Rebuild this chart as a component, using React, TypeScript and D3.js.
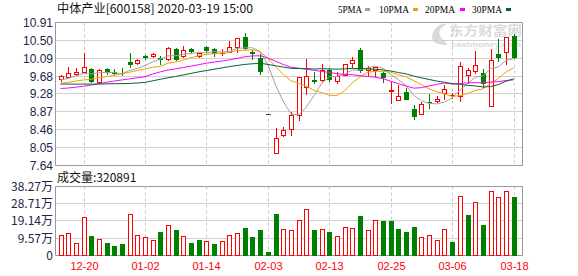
import React from 'react';
import * as d3 from 'd3';

const opens = [9.60, 9.66, 9.73, 9.77, 9.83, 9.54, 9.83, 9.77, 9.75, 10.00, 9.97, 10.13, 10.13, 10.08, 10.06, 10.29, 10.13, 10.29, 10.14, 10.345, 10.29, 10.20, 10.23, 10.345, 10.575, 10.22, 10.08, 8.80, 7.92, 8.33, 8.46, 8.78, 9.43, 9.58, 9.58, 9.81, 9.56, 9.70, 9.98, 10.27, 9.81, 9.82, 9.74, 9.34, 9.13, 9.32, 8.91, 8.80, 9.075, 9.10, 9.28, 9.23, 9.22, 9.69, 9.80, 9.74, 9.00, 10.18, 10.23, 10.59];
const highs = [9.69, 9.87, 9.85, 10.19, 9.865, 9.83, 9.865, 9.835, 9.85, 10.21, 10.06, 10.15, 10.19, 10.14, 10.33, 10.31, 10.36, 10.31, 10.21, 10.36, 10.32, 10.29, 10.48, 10.55, 10.65, 10.27, 10.17, 8.80, 8.48, 8.50, 8.845, 9.66, 10.06, 9.77, 9.95, 9.85, 9.77, 9.94, 10.10, 10.31, 9.905, 9.89, 9.77, 9.545, 9.47, 9.39, 9.01, 9.09, 9.26, 9.22, 9.47, 9.29, 10.00, 9.865, 10.25, 9.83, 10.29, 10.51, 10.57, 10.64];
const lows = [9.57, 9.645, 9.70, 9.76, 9.53, 9.51, 9.71, 9.71, 9.70, 9.89, 9.95, 10.06, 10.10, 9.94, 10.04, 10.03, 10.12, 10.19, 10.10, 10.22, 10.14, 10.16, 10.22, 10.22, 10.29, 10.06, 9.72, 8.80, 7.92, 8.30, 8.33, 8.67, 9.26, 9.52, 9.56, 9.57, 9.52, 9.70, 9.89, 9.77, 9.70, 9.675, 9.545, 9.05, 9.13, 9.15, 8.685, 8.80, 8.95, 9.09, 9.15, 9.165, 9.10, 9.51, 9.74, 9.41, 9.00, 10.02, 9.94, 10.08];
const closes = [9.67, 9.74, 9.76, 9.89, 9.55, 9.81, 9.77, 9.75, 9.74, 9.94, 10.04, 10.10, 10.17, 10.06, 10.31, 10.06, 10.26, 10.25, 10.19, 10.27, 10.19, 10.21, 10.33, 10.54, 10.32, 10.20, 9.79, 8.80, 8.25, 8.44, 8.78, 9.66, 9.68, 9.56, 9.81, 9.60, 9.67, 9.94, 10.04, 9.81, 9.85, 9.87, 9.66, 9.36, 9.22, 9.16, 8.77, 9.03, 9.07, 9.16, 9.37, 9.24, 9.90, 9.81, 9.93, 9.51, 10.04, 10.12, 10.56, 10.12];
// volume in 万
const volumes = [11.0, 12.3, 6.7, 21.1, 10.6, 8.8, 6.7, 5.0, 6.1, 22.9, 11.0, 9.9, 8.4, 12.85, 16.6, 13.6, 10.4, 6.7, 8.4, 8.0, 6.1, 7.8, 11.0, 12.3, 15.1, 10.1, 14.0, 1.7, 22.5, 14.4, 13.8, 19.4, 25.5, 14.0, 14.4, 12.85, 10.4, 15.5, 14.9, 21.8, 13.8, 19.4, 19.0, 19.0, 14.5, 13.0, 15.3, 9.9, 11.0, 8.4, 14.5, 7.3, 33.0, 22.3, 29.4, 16.8, 35.6, 32.2, 35.6, 32.09];
const ma5 = [9.585, 9.62, 9.675, 9.735, 9.722, 9.75, 9.756, 9.754, 9.724, 9.802, 9.848, 9.914, 9.998, 10.062, 10.136, 10.14, 10.172, 10.188, 10.214, 10.206, 10.232, 10.222, 10.238, 10.308, 10.318, 10.32, 10.236, 9.93, 9.472, 9.096, 8.812, 8.786, 8.962, 9.224, 9.498, 9.662, 9.664, 9.716, 9.812, 9.812, 9.862, 9.902, 9.846, 9.71, 9.592, 9.454, 9.234, 9.108, 9.05, 9.038, 9.08, 9.174, 9.348, 9.496, 9.65, 9.678, 9.838, 9.882, 10.032, 10.07];
const ma10 = [9.51, 9.53, 9.56, 9.585, 9.60, 9.64, 9.66, 9.69, 9.728, 9.762, 9.799, 9.835, 9.876, 9.893, 9.969, 9.994, 10.043, 10.093, 10.138, 10.171, 10.186, 10.197, 10.213, 10.261, 10.262, 10.276, 10.229, 10.084, 9.89, 9.707, 9.566, 9.511, 9.446, 9.348, 9.297, 9.237, 9.225, 9.339, 9.518, 9.655, 9.762, 9.783, 9.781, 9.761, 9.702, 9.658, 9.568, 9.477, 9.38, 9.315, 9.267, 9.204, 9.228, 9.273, 9.344, 9.379, 9.506, 9.615, 9.764, 9.86];
const ma20 = [9.39, 9.40, 9.42, 9.44, 9.47, 9.50, 9.53, 9.56, 9.585, 9.61, 9.635, 9.66, 9.72, 9.77, 9.81, 9.84, 9.87, 9.90, 9.935, 9.967, 9.993, 10.016, 10.045, 10.077, 10.116, 10.135, 10.136, 10.089, 10.014, 9.939, 9.876, 9.854, 9.83, 9.805, 9.78, 9.757, 9.727, 9.712, 9.704, 9.681, 9.664, 9.647, 9.614, 9.555, 9.50, 9.448, 9.397, 9.408, 9.449, 9.485, 9.515, 9.494, 9.505, 9.517, 9.523, 9.519, 9.537, 9.546, 9.572, 9.588];
const ma30 = [9.49, 9.49, 9.49, 9.49, 9.49, 9.49, 9.495, 9.50, 9.50, 9.505, 9.515, 9.53, 9.565, 9.60, 9.635, 9.665, 9.70, 9.735, 9.77, 9.80, 9.83, 9.86, 9.89, 9.915, 9.94, 9.955, 9.965, 9.94, 9.91, 9.88, 9.85, 9.848, 9.845, 9.834, 9.843, 9.836, 9.832, 9.839, 9.849, 9.844, 9.838, 9.83, 9.813, 9.79, 9.754, 9.724, 9.674, 9.633, 9.596, 9.559, 9.532, 9.499, 9.485, 9.461, 9.448, 9.425, 9.433, 9.477, 9.554, 9.61];

const xTickIndex = [3, 11, 19, 27, 35, 43, 51, 59];
const xTickLabels = ['12-20', '01-02', '01-14', '02-03', '02-13', '02-25', '03-06', '03-18'];
const priceTicks = ['7.64', '8.05', '8.46', '8.87', '9.28', '9.68', '10.09', '10.50', '10.91'];
const volTicks = ['0', '9.57', '19.14', '28.71', '38.27'];
const maNames = ['5PMA', '10PMA', '20PMA', '30PMA'];
const titleText = '中体产业[600158] 2020-03-19 15:00';
const volLabel = '成交量:320891';

const RED = '#ff0000';
const GREEN = '#008000';
const maColors = ['#a0a0a0', '#f5a000', '#ff00ff', '#00662e'];

export default function App() {
  const L = 55.5, R = 522.5;
  const x = d3.scaleLinear().domain([0, 59]).range([60.5, 513.6]);
  const y = d3.scaleLinear().domain([7.64, 10.91]).range([165, 22]);
  const yv = d3.scaleLinear().domain([0, 38.27]).range([255, 186]);
  const snap = (v: number) => Math.round(v) + 0.5;
  const mainTop = snap(y(10.91)), mainBot = snap(y(7.64));
  const volTop = snap(yv(38.27)), volBot = snap(yv(0));

  const maSeries = [ma5, ma10, ma20, ma30];
  const line = d3.line<number>().x((_, i) => x(i)).y((d) => y(d));

  const isUp = (i: number) => {
    if (closes[i] > opens[i]) return true;
    if (closes[i] < opens[i]) return false;
    return i === 0 ? true : closes[i] >= closes[i - 1];
  };
  const volUp = (i: number) => (i === 0 ? closes[i] >= opens[i] : closes[i] >= closes[i - 1]);

  const legendPos = [
    { tx: 338, tw: 24, sx: 365 },
    { tx: 379, tw: 30, sx: 413 },
    { tx: 425, tw: 30, sx: 460 },
    { tx: 472, tw: 30, sx: 506 },
  ];

  const axisFont = '"Liberation Sans", Arial, sans-serif';
  const cjkFont = '"Noto Sans CJK SC", "Liberation Sans", sans-serif';
  const axisColor = '#22264a';

  return (
    <svg width={578} height={276} style={{ position: 'absolute', left: 0, top: 0, background: '#fff' }}>
      {/* watermark */}
      <g fill="#dadada">
        <path d="M432 38 C432 28, 440 23, 447 24 C441 27, 438 31, 440 36 C442 40, 446 41, 447 45 C441 45, 433 44, 432 38 Z" />
        <text x={449} y={35} fontFamily={cjkFont} fontSize={13} fontWeight="bold" textLength={73} lengthAdjust="spacingAndGlyphs">东方财富网</text>
        <text x={451} y={47} fontFamily={axisFont} fontSize={8} fontWeight="bold" textLength={70} lengthAdjust="spacingAndGlyphs">eastmoney.com</text>
      </g>

      {/* title and legend */}
      <text x={57} y={13} fontFamily={cjkFont} fontSize={12} fill="#111" textLength={196} lengthAdjust="spacingAndGlyphs">{titleText}</text>
      {maNames.map((n, k) => (
        <g key={n}>
          <text x={legendPos[k].tx} y={12.5} fontFamily='"Liberation Serif", serif' fontSize={11} fill="#000" textLength={legendPos[k].tw} lengthAdjust="spacingAndGlyphs">{n}</text>
          <rect x={legendPos[k].sx} y={8} width={5} height={3} fill={maColors[k]} />
        </g>
      ))}

      {/* main grid */}
      {priceTicks.map((t) => {
        const yy = snap(y(parseFloat(t)));
        return (
          <g key={'p' + t}>
            <line x1={L} x2={R} y1={yy} y2={yy} stroke={t === '10.91' || t === '7.64' ? '#999' : '#d0d0d0'} />
            <text x={53} y={yy + 4} textAnchor="end" fontFamily={axisFont} fontSize={12} fill={axisColor}>{t}</text>
          </g>
        );
      })}
      {volTicks.map((t) => {
        const yy = snap(yv(parseFloat(t)));
        return (
          <g key={'v' + t}>
            <line x1={L} x2={R} y1={yy} y2={yy} stroke={t === '0' || t === '38.27' ? '#999' : '#d0d0d0'} />
            <text x={53} y={yy + 4} textAnchor="end" fontFamily={cjkFont} fontSize={12} fill={axisColor}>{t === '0' ? t : t + '万'}</text>
          </g>
        );
      })}
      {xTickIndex.map((ti, k) => {
        const xx = snap(x(ti));
        return (
          <g key={'x' + ti}>
            <line x1={xx} x2={xx} y1={mainTop} y2={mainBot} stroke="#c8c8c8" strokeDasharray="3,3" />
            <line x1={xx} x2={xx} y1={volTop} y2={volBot} stroke="#c8c8c8" strokeDasharray="3,3" />
            <text x={xx} y={270} textAnchor="middle" fontFamily={axisFont} fontSize={11} fill={RED}>{xTickLabels[k]}</text>
          </g>
        );
      })}
      <line x1={L} x2={L} y1={mainTop} y2={mainBot} stroke="#999" />
      <line x1={R} x2={R} y1={mainTop} y2={mainBot} stroke="#999" />
      <line x1={L} x2={L} y1={volTop} y2={volBot} stroke="#999" />
      <line x1={R} x2={R} y1={volTop} y2={volBot} stroke="#999" />

      <text x={57} y={182} fontFamily={cjkFont} fontSize={12} fill="#111">{volLabel}</text>

      {/* candles */}
      {closes.map((c, i) => {
        const px = Math.round(x(i));
        const cx = px + 0.5;
        const up = isUp(i);
        const col = up ? RED : GREEN;
        const top = Math.round(y(Math.max(opens[i], c)));
        const bot = Math.round(y(Math.min(opens[i], c)));
        const hi = Math.round(y(highs[i]));
        const lo = Math.round(y(lows[i]));
        const h = bot - top;
        return (
          <g key={'c' + i}>
            {hi < lo && <line x1={cx} x2={cx} y1={hi} y2={lo + 1} stroke={col} />}
            {h < 1 ? (
              <rect x={px - 2} y={top} width={5} height={1} fill={col} />
            ) : up ? (
              <rect x={px - 1.5} y={top + 0.5} width={4} height={h} fill="#fff" stroke={col} />
            ) : (
              <rect x={px - 2} y={top} width={5} height={h + 1} fill={col} />
            )}
          </g>
        );
      })}

      {/* moving averages */}
      {maSeries.map((s, k) => (
        <path key={'ma' + k} d={line(s) || ''} fill="none" stroke={maColors[k]} strokeWidth={1} />
      ))}

      {/* volume */}
      {volumes.map((v, i) => {
        const px = Math.round(x(i));
        const up = volUp(i);
        const top = Math.round(yv(v));
        const base = Math.round(yv(0));
        const h = base - top;
        return up ? (
          <rect key={'vb' + i} x={px - 1.5} y={top + 0.5} width={4} height={h} fill="#fff" stroke={RED} />
        ) : (
          <rect key={'vb' + i} x={px - 2} y={top} width={5} height={h + 1} fill={GREEN} />
        );
      })}
    </svg>
  );
}
